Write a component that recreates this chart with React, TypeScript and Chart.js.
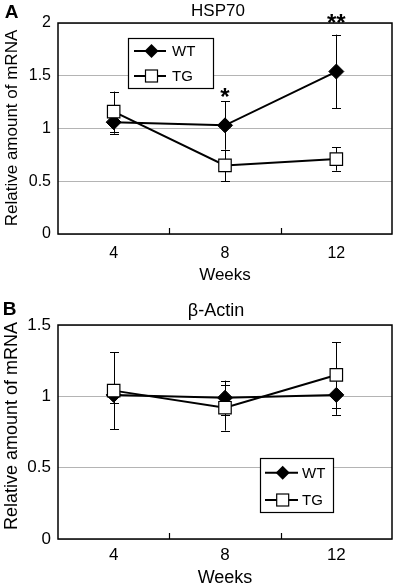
import React, { useEffect, useRef } from 'react';
import { Chart, registerables } from 'chart.js';

Chart.register(...registerables);

// ---- Data ----
const weeks = ['4', '8', '12'];

const hspWT = [1.06, 1.03, 1.54];
const hspWTErr = [0.11, 0.23, 0.35];
const hspTG = [1.16, 0.65, 0.71];
const hspTGErr = [0.19, 0.15, 0.11];
const hspSigText = ['', '*', '**'];
const hspSigValue = [null, 1.34, 2.04];
const hspYTicks = { min: 0, max: 2, step: 0.5 };

const actWT = [1.01, 0.99, 1.01];
const actWTErr = [0.055, 0.12, 0.14];
const actTG = [1.04, 0.92, 1.15];
const actTGErr = [0.27, 0.16, 0.23];
const actYTicks = { min: 0, max: 1.5, step: 0.5 };

const seriesNames = ['WT', 'TG'];

const FONT = 'Arial, "Liberation Sans", Helvetica, sans-serif';

function drawCentered(ctx: CanvasRenderingContext2D, text: string, cx: number, cy: number, font: string, rot = 0) {
  ctx.save();
  ctx.font = font;
  ctx.fillStyle = '#000';
  ctx.textAlign = 'center';
  ctx.textBaseline = 'alphabetic';
  const m = ctx.measureText(text);
  const asc = m.actualBoundingBoxAscent;
  const desc = m.actualBoundingBoxDescent;
  ctx.translate(cx, cy);
  ctx.rotate(rot);
  ctx.fillText(text, 0, (asc - desc) / 2);
  ctx.restore();
}

function drawLeftMiddle(ctx: CanvasRenderingContext2D, text: string, x: number, cy: number, font: string) {
  ctx.save();
  ctx.font = font;
  ctx.fillStyle = '#000';
  ctx.textAlign = 'left';
  ctx.textBaseline = 'alphabetic';
  const m = ctx.measureText('WTG');
  ctx.fillText(text, x, cy + (m.actualBoundingBoxAscent - m.actualBoundingBoxDescent) / 2);
  ctx.restore();
}

function diamond(ctx: CanvasRenderingContext2D, x: number, y: number, r: number) {
  ctx.beginPath();
  ctx.moveTo(x, y - r);
  ctx.lineTo(x + r, y);
  ctx.lineTo(x, y + r);
  ctx.lineTo(x - r, y);
  ctx.closePath();
  ctx.fillStyle = '#000';
  ctx.fill();
}

function square(ctx: CanvasRenderingContext2D, x: number, y: number, s: number) {
  ctx.fillStyle = '#fff';
  ctx.fillRect(x - s / 2, y - s / 2, s, s);
  ctx.strokeStyle = '#000';
  ctx.lineWidth = 1.2;
  ctx.strokeRect(x - s / 2, y - s / 2, s, s);
}

const decorPlugin = {
  id: 'panelDecor',
  beforeDatasetsDraw(chart: any, _args: any, opts: any) {
    const ctx = chart.ctx;
    const y = chart.scales.y;
    ctx.save();
    ctx.strokeStyle = '#000';
    ctx.lineWidth = 1;
    opts.errors.forEach((errs: number[], di: number) => {
      const meta = chart.getDatasetMeta(di);
      const vals = chart.data.datasets[di].data as number[];
      meta.data.forEach((pt: any, j: number) => {
        const x = Math.round(pt.x) + 0.5;
        const top = y.getPixelForValue(vals[j] + errs[j]);
        const bot = y.getPixelForValue(vals[j] - errs[j]);
        ctx.beginPath();
        ctx.moveTo(x, top);
        ctx.lineTo(x, bot);
        ctx.moveTo(x - 4.5, Math.round(top) + 0.5);
        ctx.lineTo(x + 4.5, Math.round(top) + 0.5);
        ctx.moveTo(x - 4.5, Math.round(bot) + 0.5);
        ctx.lineTo(x + 4.5, Math.round(bot) + 0.5);
        ctx.stroke();
      });
    });
    ctx.restore();
  },
  afterDraw(chart: any, _args: any, opts: any) {
    const ctx = chart.ctx;
    const a = chart.chartArea;
    const xs = chart.scales.x;
    const ys = chart.scales.y;
    ctx.save();
    // plot frame
    ctx.strokeStyle = '#000';
    ctx.lineWidth = 1.5;
    ctx.strokeRect(a.left, a.top, a.right - a.left, a.bottom - a.top);
    // inner ticks between categories
    ctx.lineWidth = 1.2;
    for (let i = 0; i < weeks.length - 1; i++) {
      const xm = Math.round((xs.getPixelForValue(i) + xs.getPixelForValue(i + 1)) / 2) + 0.5;
      ctx.beginPath();
      ctx.moveTo(xm, a.bottom);
      ctx.lineTo(xm, a.bottom - 6);
      ctx.stroke();
    }
    // legend
    const L = opts.legend;
    ctx.fillStyle = '#fff';
    ctx.fillRect(L.x, L.y, L.w, L.h);
    ctx.strokeStyle = '#000';
    ctx.lineWidth = 1.2;
    ctx.strokeRect(L.x + 0.5, L.y + 0.5, L.w, L.h);
    L.rows.forEach((ry: number, k: number) => {
      ctx.strokeStyle = '#000';
      ctx.lineWidth = 2;
      ctx.beginPath();
      ctx.moveTo(L.lineX0, ry);
      ctx.lineTo(L.lineX1, ry);
      ctx.stroke();
      if (k === 0) diamond(ctx, L.markX, ry, 7);
      else square(ctx, L.markX, ry, 12);
      drawLeftMiddle(ctx, seriesNames[k], L.textX, ry, `15px ${FONT}`);
    });
    // significance marks
    if (opts.sigText) {
      opts.sigText.forEach((t: string, j: number) => {
        if (!t) return;
        drawCentered(ctx, t, xs.getPixelForValue(j), ys.getPixelForValue(opts.sigValue[j]), `bold 24px ${FONT}`);
      });
    }
    // texts
    drawCentered(ctx, opts.letter, opts.letterX, opts.letterY, `bold 19px ${FONT}`);
    drawCentered(ctx, opts.title, opts.titleX, opts.titleY, `${opts.labelSize}px ${FONT}`);
    drawCentered(ctx, 'Relative amount of mRNA', opts.yLabelX, opts.yLabelY, `${opts.labelSize}px ${FONT}`, -Math.PI / 2);
    drawCentered(ctx, 'Weeks', (a.left + a.right) / 2, opts.xLabelY, `${opts.labelSize}px ${FONT}`);
    ctx.restore();
  },
};

function makeConfig(p: any) {
  return {
    type: 'line',
    data: {
      labels: weeks,
      datasets: [
        {
          label: seriesNames[0],
          data: p.wt,
          order: 1,
          borderColor: '#000',
          borderWidth: 2,
          pointStyle: 'rectRot',
          pointRadius: 7.5,
          pointBackgroundColor: '#000',
          pointBorderColor: '#000',
          pointBorderWidth: 1,
          tension: 0,
          fill: false,
        },
        {
          label: seriesNames[1],
          data: p.tg,
          order: 0,
          borderColor: '#000',
          borderWidth: 2,
          pointStyle: 'rect',
          pointRadius: 8.8,
          pointBackgroundColor: '#fff',
          pointBorderColor: '#000',
          pointBorderWidth: 1.2,
          tension: 0,
          fill: false,
        },
      ],
    },
    options: {
      animation: false,
      responsive: false,
      maintainAspectRatio: false,
      events: [],
      layout: { padding: { top: p.top, right: 3, left: 0, bottom: 0 } },
      scales: {
        x: {
          type: 'category',
          offset: true,
          grid: { display: false, drawTicks: false },
          border: { display: false },
          ticks: { color: '#000', font: { family: FONT, size: p.tickSize }, padding: p.xTickPad, maxRotation: 0 },
          afterFit: (s: any) => { s.height = p.xHeight; },
        },
        y: {
          min: p.yTicks.min,
          max: p.yTicks.max,
          grid: { color: '#b4b4b4', lineWidth: 1, drawTicks: false },
          border: { display: false },
          ticks: {
            stepSize: p.yTicks.step,
            color: '#000',
            font: { family: FONT, size: p.tickSize },
            padding: 7,
            callback: (v: any) => String(Math.round(Number(v) * 100) / 100),
          },
          afterFit: (s: any) => { s.width = 58; },
        },
      },
      plugins: {
        legend: { display: false },
        tooltip: { enabled: false },
        title: { display: false },
        panelDecor: p.decor,
      },
    },
    plugins: [decorPlugin],
  };
}

function Panel(props: { height: number; cfg: any }) {
  const ref = useRef<HTMLCanvasElement>(null);
  useEffect(() => {
    const chart = new Chart(ref.current as HTMLCanvasElement, props.cfg);
    return () => chart.destroy();
  }, []);
  return <canvas ref={ref} width={402} height={props.height} style={{ display: 'block', width: 402, height: props.height }} />;
}

const cfgA = makeConfig({
  wt: hspWT,
  tg: hspTG,
  yTicks: hspYTicks,
  top: 23,
  xHeight: 56,
  tickSize: 16,
  xTickPad: 10,
  decor: {
    errors: [hspWTErr, hspTGErr],
    sigText: hspSigText,
    sigValue: hspSigValue,
    letter: 'A',
    letterX: 11.5,
    letterY: 11.5,
    title: 'HSP70',
    titleX: 218,
    titleY: 9.5,
    labelSize: 17,
    yLabelX: 11,
    yLabelY: 128,
    xLabelY: 273.5,
    legend: { x: 128, y: 38, w: 85, h: 50, rows: [51, 76], lineX0: 134, lineX1: 166, markX: 151.5, textX: 172 },
  },
});

const cfgB = makeConfig({
  wt: actWT,
  tg: actTG,
  yTicks: actYTicks,
  top: 35,
  xHeight: 46,
  tickSize: 17,
  xTickPad: 6,
  decor: {
    errors: [actWTErr, actTGErr],
    sigText: null,
    sigValue: null,
    letter: 'B',
    letterX: 9.5,
    letterY: 18,
    title: 'β-Actin',
    titleX: 216,
    titleY: 21,
    labelSize: 18,
    yLabelX: 10.5,
    yLabelY: 136,
    xLabelY: 286,
    legend: { x: 260, y: 168, w: 73, h: 54, rows: [182.7, 210], lineX0: 265, lineX1: 298, markX: 282.7, textX: 302 },
  },
});

export default function App() {
  return (
    <div style={{ position: 'absolute', left: 0, top: 0, width: 402, height: 585, background: '#fff' }}>
      <Panel height={290} cfg={cfgA} />
      <Panel height={295} cfg={cfgB} />
    </div>
  );
}
